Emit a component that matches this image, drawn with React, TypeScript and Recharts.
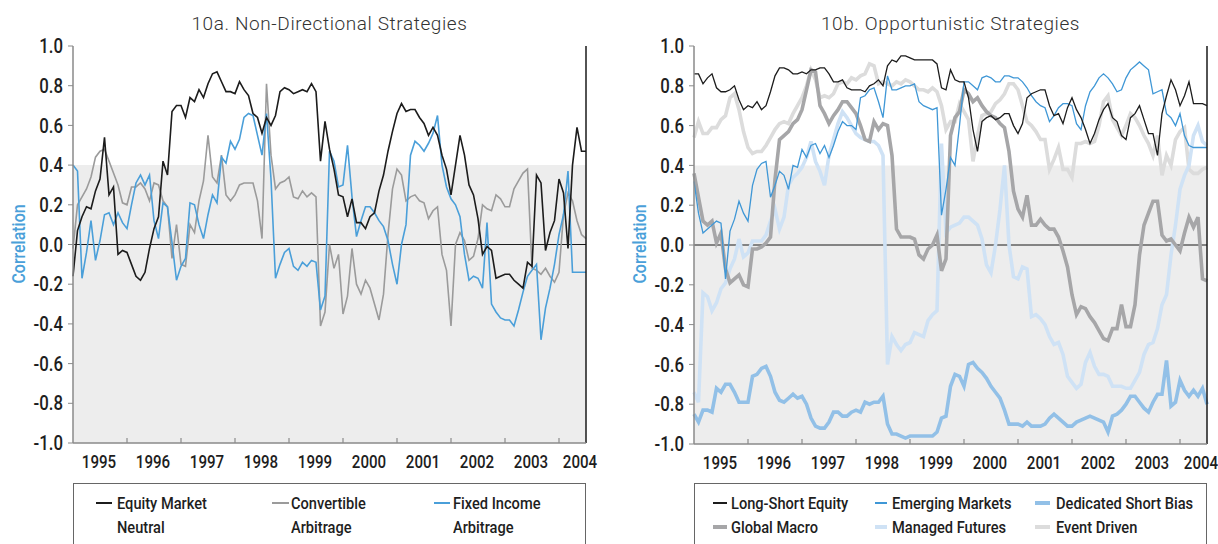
import React from 'react';
import { LineChart, Line, XAxis, YAxis, ReferenceArea, ReferenceLine } from 'recharts';

const FONT = 'Roboto, "Liberation Sans", Arial, sans-serif';
const FONT_WEIGHT = 500;
const NARROW = 0.84;
const LEGEND_NARROW = 0.86;
const TITLE_FONT = 'Roboto, "Noto Sans", sans-serif';

const yearLabels = ['1995', '1996', '1997', '1998', '1999', '2000', '2001', '2002', '2003', '2004'];
const yTicks = [1, 0.8, 0.6, 0.4, 0.2, 0, -0.2, -0.4, -0.6, -0.8, -1];
const bandTop = 0.4;

// Monthly values, Jan 1995 .. Jul 2004 (one row per year)
const equityMarketNeutral = [
  -0.16, 0.07, 0.14, 0.19, 0.18, 0.27, 0.33, 0.54, 0.25, 0.29, -0.05, -0.03,
  -0.04, -0.10, -0.16, -0.18, -0.14, -0.02, 0.08, 0.14, 0.42, 0.35, 0.67, 0.70,
  0.70, 0.64, 0.74, 0.72, 0.78, 0.74, 0.81, 0.86, 0.87, 0.82, 0.77, 0.77,
  0.76, 0.82, 0.78, 0.75, 0.66, 0.64, 0.56, 0.64, 0.60, 0.65, 0.77, 0.79,
  0.78, 0.76, 0.77, 0.78, 0.77, 0.81, 0.77, 0.42, 0.62, 0.48, 0.38, 0.25,
  0.24, 0.14, 0.23, 0.11, 0.11, 0.08, 0.14, 0.16, 0.27, 0.35, 0.47, 0.57,
  0.66, 0.71, 0.67, 0.68, 0.68, 0.64, 0.61, 0.55, 0.59, 0.55, 0.45, 0.38,
  0.25, 0.40, 0.55, 0.45, 0.30, 0.25, 0.13, -0.05, -0.01, -0.03, -0.17, -0.16,
  -0.15, -0.15, -0.18, -0.20, -0.22, -0.09, -0.11, 0.35, 0.31, -0.03, 0.06, 0.12,
  0.33, 0.26, -0.02, 0.40, 0.59, 0.47, 0.47,
];
const convertibleArbitrage = [
  -0.02, 0.20, 0.24, 0.28, 0.34, 0.44, 0.47, 0.48, 0.42, 0.36, 0.30, 0.21,
  0.20, 0.29, 0.29, 0.31, 0.28, 0.22, 0.31, 0.30, 0.22, 0.19, -0.07, 0.10,
  -0.10, -0.11, 0.10, 0.06, 0.22, 0.32, 0.55, 0.34, 0.31, 0.45, 0.25, 0.22,
  0.25, 0.30, 0.31, 0.31, 0.31, 0.22, 0.03, 0.81, 0.45, 0.28, 0.31, 0.32,
  0.34, 0.24, 0.23, 0.27, 0.24, 0.26, 0.24, -0.41, -0.34, 0.00, -0.12, -0.05,
  -0.35, -0.26, -0.02, -0.20, -0.25, -0.18, -0.22, -0.30, -0.38, -0.25, 0.05, 0.28,
  0.38, 0.35, 0.22, 0.24, 0.25, 0.22, 0.21, 0.13, 0.17, 0.19, -0.05, -0.13,
  -0.41, 0.00, 0.06, 0.02, -0.08, -0.06, 0.03, 0.20, 0.18, 0.17, 0.25, 0.23,
  0.19, 0.19, 0.28, 0.32, 0.36, 0.38, -0.12, -0.13, -0.15, -0.12, -0.16, -0.19,
  -0.14, 0.15, 0.26, 0.22, 0.12, 0.05, 0.03,
];
const fixedIncomeArbitrage = [
  0.40, 0.37, -0.17, -0.04, 0.12, -0.08, 0.02, 0.15, 0.16, 0.10, 0.16, 0.11,
  0.08, 0.20, 0.31, 0.35, 0.30, 0.35, 0.12, 0.03, 0.21, 0.19, 0.01, -0.18,
  -0.11, -0.07, 0.21, 0.20, 0.10, 0.03, 0.15, 0.25, 0.21, 0.44, 0.41, 0.52,
  0.48, 0.53, 0.64, 0.66, 0.65, 0.55, 0.45, 0.66, 0.33, -0.17, -0.10, -0.04,
  -0.02, -0.11, -0.13, -0.09, -0.11, -0.08, -0.09, -0.33, -0.26, 0.47, 0.42, 0.29,
  0.30, 0.50, 0.24, 0.04, 0.12, 0.19, 0.19, 0.16, 0.12, 0.09, 0.02, -0.10,
  -0.20, 0.00, 0.10, 0.45, 0.52, 0.50, 0.47, 0.51, 0.56, 0.65, 0.40, 0.29,
  0.23, 0.20, 0.14, -0.05, -0.18, -0.16, -0.17, -0.22, 0.11, -0.30, -0.34, -0.37,
  -0.38, -0.38, -0.41, -0.33, -0.24, -0.16, -0.13, -0.10, -0.48, -0.32, -0.22, -0.10,
  0.05, 0.15, 0.37, -0.14, -0.14, -0.14, -0.14,
];

const longShortEquity = [
  0.86, 0.86, 0.81, 0.84, 0.86, 0.79, 0.77, 0.77, 0.78, 0.80, 0.73, 0.68,
  0.70, 0.69, 0.72, 0.68, 0.70, 0.77, 0.85, 0.89, 0.89, 0.88, 0.86, 0.86,
  0.87, 0.86, 0.88, 0.88, 0.89, 0.89, 0.86, 0.82, 0.82, 0.83, 0.79, 0.78,
  0.78, 0.78, 0.77, 0.80, 0.81, 0.83, 0.80, 0.90, 0.93, 0.92, 0.95, 0.95,
  0.94, 0.93, 0.93, 0.93, 0.93, 0.93, 0.91, 0.79, 0.78, 0.88, 0.83, 0.82,
  0.82, 0.74, 0.58, 0.47, 0.62, 0.64, 0.65, 0.63, 0.64, 0.66, 0.66, 0.60,
  0.56, 0.61, 0.74, 0.76, 0.77, 0.78, 0.78, 0.70, 0.65, 0.66, 0.61, 0.69,
  0.74, 0.68, 0.64, 0.58, 0.51, 0.56, 0.63, 0.68, 0.71, 0.64, 0.62, 0.55,
  0.53, 0.64, 0.66, 0.70, 0.63, 0.56, 0.56, 0.45, 0.66, 0.75, 0.83, 0.78,
  0.70, 0.75, 0.82, 0.71, 0.71, 0.71, 0.70,
];
const emergingMarkets = [
  0.32, 0.16, 0.06, 0.08, 0.10, 0.12, 0.11, -0.17, 0.07, 0.13, 0.22, 0.16,
  0.12, 0.30, 0.38, 0.41, 0.42, 0.24, 0.30, 0.37, 0.35, 0.28, 0.40, 0.39,
  0.48, 0.44, 0.50, 0.51, 0.46, 0.50, 0.44, 0.50, 0.57, 0.62, 0.60, 0.60,
  0.58, 0.74, 0.75, 0.78, 0.79, 0.72, 0.64, 0.85, 0.78, 0.78, 0.79, 0.80,
  0.80, 0.81, 0.72, 0.70, 0.69, 0.68, 0.69, 0.15, 0.28, 0.44, 0.40, 0.60,
  0.82, 0.82, 0.80, 0.78, 0.84, 0.85, 0.84, 0.82, 0.82, 0.85, 0.85, 0.84,
  0.84, 0.82, 0.79, 0.75, 0.72, 0.70, 0.69, 0.62, 0.65, 0.69, 0.71, 0.71,
  0.70, 0.61, 0.58, 0.70, 0.77, 0.80, 0.84, 0.86, 0.84, 0.81, 0.77, 0.78,
  0.84, 0.88, 0.90, 0.92, 0.90, 0.88, 0.76, 0.77, 0.78, 0.66, 0.64, 0.60,
  0.66, 0.55, 0.50, 0.49, 0.49, 0.49, 0.49,
];
const dedicatedShortBias = [
  -0.85, -0.89, -0.83, -0.83, -0.84, -0.72, -0.74, -0.70, -0.70, -0.74, -0.79, -0.79,
  -0.79, -0.66, -0.65, -0.62, -0.61, -0.66, -0.74, -0.78, -0.79, -0.77, -0.75, -0.77,
  -0.76, -0.80, -0.87, -0.91, -0.92, -0.92, -0.89, -0.84, -0.84, -0.86, -0.86, -0.84,
  -0.83, -0.84, -0.79, -0.80, -0.79, -0.79, -0.76, -0.90, -0.95, -0.95, -0.96, -0.97,
  -0.96, -0.96, -0.96, -0.96, -0.96, -0.96, -0.94, -0.87, -0.86, -0.71, -0.65, -0.66,
  -0.71, -0.60, -0.59, -0.62, -0.64, -0.67, -0.71, -0.74, -0.77, -0.83, -0.90, -0.90,
  -0.90, -0.91, -0.89, -0.91, -0.91, -0.91, -0.90, -0.87, -0.85, -0.87, -0.89, -0.91,
  -0.91, -0.89, -0.88, -0.87, -0.86, -0.87, -0.88, -0.89, -0.94, -0.86, -0.85, -0.83,
  -0.80, -0.76, -0.76, -0.79, -0.82, -0.84, -0.79, -0.75, -0.75, -0.58, -0.81, -0.79,
  -0.68, -0.73, -0.76, -0.73, -0.76, -0.72, -0.80,
];
const globalMacro = [
  0.36, 0.24, 0.12, 0.10, 0.12, 0.01, 0.06, -0.12, -0.19, -0.17, -0.15, -0.20,
  -0.21, -0.02, -0.02, -0.01, 0.01, 0.04, 0.33, 0.53, 0.55, 0.57, 0.61, 0.63,
  0.68, 0.78, 0.88, 0.87, 0.70, 0.66, 0.61, 0.65, 0.68, 0.72, 0.72, 0.69,
  0.66, 0.60, 0.53, 0.52, 0.62, 0.58, 0.61, 0.60, 0.45, 0.08, 0.04, 0.04,
  0.04, 0.03, -0.05, -0.07, -0.02, 0.00, 0.05, -0.13, -0.07, 0.55, 0.64, 0.67,
  0.78, 0.76, 0.72, 0.74, 0.70, 0.67, 0.65, 0.64, 0.61, 0.59, 0.47, 0.27,
  0.18, 0.14, 0.25, 0.10, 0.10, 0.13, 0.10, 0.08, 0.08, 0.04, -0.03, -0.11,
  -0.25, -0.35, -0.31, -0.32, -0.36, -0.39, -0.43, -0.47, -0.48, -0.42, -0.42, -0.30,
  -0.41, -0.41, -0.30, -0.05, 0.10, 0.16, 0.22, 0.22, 0.05, 0.02, 0.03, 0.00,
  -0.03, 0.06, 0.14, 0.09, 0.14, -0.17, -0.18,
];
const managedFutures = [
  -0.74, -0.79, -0.24, -0.26, -0.33, -0.29, -0.22, -0.19, -0.12, -0.07, 0.03, -0.06,
  -0.04, 0.02, 0.02, 0.02, 0.05, 0.12, 0.18, 0.08, 0.14, 0.30, 0.34, 0.36,
  0.39, 0.44, 0.52, 0.42, 0.37, 0.30, 0.45, 0.53, 0.61, 0.67, 0.64, 0.60,
  0.56, 0.54, 0.53, 0.52, 0.52, 0.50, 0.45, -0.60, -0.46, -0.50, -0.53, -0.50,
  -0.49, -0.44, -0.45, -0.46, -0.38, -0.35, -0.33, 0.51, 0.06, 0.09, 0.10, 0.11,
  0.14, 0.14, 0.12, 0.10, 0.03, -0.10, -0.14, 0.00, 0.18, 0.40, 0.00, -0.16,
  -0.17, -0.11, -0.12, -0.36, -0.35, -0.37, -0.40, -0.46, -0.50, -0.49, -0.55, -0.66,
  -0.69, -0.72, -0.70, -0.59, -0.54, -0.61, -0.65, -0.65, -0.66, -0.71, -0.71, -0.71,
  -0.72, -0.72, -0.68, -0.64, -0.55, -0.50, -0.49, -0.42, -0.30, -0.25, -0.05, 0.10,
  0.28, 0.35, 0.40, 0.55, 0.60, 0.52, 0.50,
];
const eventDriven = [
  0.54, 0.62, 0.56, 0.56, 0.59, 0.59, 0.63, 0.65, 0.74, 0.76, 0.68, 0.57,
  0.49, 0.46, 0.47, 0.47, 0.50, 0.54, 0.58, 0.61, 0.62, 0.61, 0.66, 0.70,
  0.74, 0.80, 0.88, 0.83, 0.74, 0.75, 0.74, 0.76, 0.81, 0.82, 0.81, 0.84,
  0.83, 0.85, 0.86, 0.91, 0.90, 0.81, 0.82, 0.81, 0.80, 0.82, 0.81, 0.83,
  0.82, 0.80, 0.78, 0.78, 0.77, 0.79, 0.77, 0.70, 0.58, 0.62, 0.62, 0.71,
  0.67, 0.63, 0.42, 0.55, 0.65, 0.66, 0.67, 0.71, 0.73, 0.76, 0.81, 0.81,
  0.78, 0.70, 0.62, 0.60, 0.57, 0.53, 0.53, 0.38, 0.43, 0.49, 0.38, 0.38,
  0.34, 0.51, 0.51, 0.52, 0.51, 0.52, 0.60, 0.72, 0.75, 0.63, 0.59, 0.55,
  0.60, 0.66, 0.64, 0.60, 0.55, 0.51, 0.45, 0.55, 0.35, 0.45, 0.40, 0.53,
  0.57, 0.59, 0.38, 0.36, 0.36, 0.38, 0.39,
];

type Series = { key: string; values: number[]; color: string; width: number };
type LegendItem = { key: string; lines: string[]; x: number; markerW: number; textX: number; row: number };

const leftSeries: Series[] = [
  { key: 'ca', values: convertibleArbitrage, color: '#9b9b9b', width: 1.6 },
  { key: 'fia', values: fixedIncomeArbitrage, color: '#4a9fd9', width: 1.6 },
  { key: 'emn', values: equityMarketNeutral, color: '#1c1c1c', width: 1.6 },
];
const rightSeries: Series[] = [
  { key: 'ed', values: eventDriven, color: '#dcdcdc', width: 3.6 },
  { key: 'mf', values: managedFutures, color: '#cfe2f5', width: 3.6 },
  { key: 'dsb', values: dedicatedShortBias, color: '#92c0e7', width: 3.6 },
  { key: 'gm', values: globalMacro, color: '#a6a6a8', width: 3.6 },
  { key: 'em', values: emergingMarkets, color: '#3f97d6', width: 1.3 },
  { key: 'lse', values: longShortEquity, color: '#1c1c1c', width: 1.3 },
];

const leftLegend: LegendItem[] = [
  { key: 'emn', lines: ['Equity Market', 'Neutral'], x: 96, markerW: 16, textX: 117, row: 0 },
  { key: 'ca', lines: ['Convertible', 'Arbitrage'], x: 272, markerW: 17, textX: 291, row: 0 },
  { key: 'fia', lines: ['Fixed Income', 'Arbitrage'], x: 434, markerW: 16, textX: 453, row: 0 },
];
const rightLegend: LegendItem[] = [
  { key: 'lse', lines: ['Long-Short Equity'], x: 104, markerW: 14, textX: 122, row: 0 },
  { key: 'em', lines: ['Emerging Markets'], x: 266, markerW: 12, textX: 283, row: 0 },
  { key: 'dsb', lines: ['Dedicated Short Bias'], x: 426, markerW: 15, textX: 447, row: 0 },
  { key: 'gm', lines: ['Global Macro'], x: 104, markerW: 14, textX: 122, row: 1 },
  { key: 'mf', lines: ['Managed Futures'], x: 266, markerW: 12, textX: 283, row: 1 },
  { key: 'ed', lines: ['Event Driven'], x: 426, markerW: 15, textX: 447, row: 1 },
];

function buildRows(series: Series[]) {
  const n = Math.max(...series.map((s) => s.values.length));
  const rows: Record<string, number>[] = [];
  for (let i = 0; i < n; i++) {
    const row: Record<string, number> = { m: i };
    series.forEach((s) => {
      row[s.key] = s.values[i];
    });
    rows.push(row);
  }
  return rows;
}

const H = 544;
const PLOT_TOP = 46;
const YAXIS_W = 50;
const XAXIS_H = 40;
const AXIS_GREY = '#8a8a8a';
const TEXT = '#1e1e1e';

function XTick(props: any) {
  const { x, y, payload } = props;
  const idx = Math.round((payload.value - 6) / 12);
  const label = yearLabels[idx];
  const shift = idx === yearLabels.length - 1 ? -6 : -1;
  return (
    <text
      transform={`translate(${x + shift},${y}) scale(${NARROW},1)`}
      textAnchor="middle"
      dy="0.71em"
      fill={TEXT}
      fontSize={18}
      fontWeight={FONT_WEIGHT}
      fontFamily={FONT}
    >
      {label}
    </text>
  );
}

function YTick(props: any) {
  const { x, y, payload } = props;
  return (
    <text
      transform={`translate(${x},${y}) scale(${NARROW},1)`}
      textAnchor="end"
      dy="0.355em"
      fill={TEXT}
      fontSize={20}
      fontWeight={FONT_WEIGHT}
      fontFamily={FONT}
    >
      {Number(payload.value).toFixed(1)}
    </text>
  );
}

function Panel(props: {
  left: number;
  width: number;
  plotLeft: number;
  plotRight: number;
  bottom: number;
  title: string;
  series: Series[];
  legend: LegendItem[];
}) {
  const { left, width, plotLeft, plotRight, bottom, title, series, legend } = props;
  const rows = buildRows(series);
  const maxM = rows.length - 1;
  const labelTicks = yearLabels.map((_, i) => 6 + 12 * i);
  const boundaries = yearLabels.slice(1).map((_, i) => 12 * (i + 1));
  const plotW = plotRight - plotLeft;
  const byKey: Record<string, Series> = {};
  series.forEach((s) => (byKey[s.key] = s));
  const rowY = [503, 527];

  return (
    <div style={{ position: 'absolute', left, top: 0, width, height: H }}>
      <LineChart
        width={width}
        height={H}
        data={rows}
        margin={{ top: PLOT_TOP, right: width - plotRight, bottom, left: plotLeft - YAXIS_W }}
      >
        <ReferenceArea x1={0} x2={maxM} y1={-1} y2={bandTop} fill="#ededed" fillOpacity={1} stroke="none" />
        <XAxis
          type="number"
          dataKey="m"
          domain={[0, maxM]}
          ticks={labelTicks}
          interval={0}
          tickLine={false}
          tickSize={0}
          tickMargin={12}
          height={XAXIS_H}
          axisLine={{ stroke: AXIS_GREY, strokeWidth: 1.5 }}
          tick={<XTick />}
        />
        <YAxis
          type="number"
          domain={[-1, 1]}
          ticks={yTicks}
          interval={0}
          width={YAXIS_W}
          tickSize={5}
          tickMargin={5}
          tickLine={{ stroke: AXIS_GREY }}
          axisLine={{ stroke: AXIS_GREY, strokeWidth: 1.5 }}
          tick={<YTick />}
        />
        {boundaries.map((b) => (
          <ReferenceLine
            key={b}
            segment={[
              { x: b, y: -1 },
              { x: b, y: -0.975 },
            ]}
            stroke={AXIS_GREY}
            strokeWidth={1.2}
          />
        ))}
        <ReferenceLine y={0} stroke="#1a1a1a" strokeWidth={1} />
        {series.map((s) => (
          <Line
            key={s.key}
            dataKey={s.key}
            type="linear"
            stroke={s.color}
            strokeWidth={s.width}
            dot={false}
            activeDot={false}
            isAnimationActive={false}
          />
        ))}
        <ReferenceLine x={maxM} stroke="#1a1a1a" strokeWidth={1.5} />
      </LineChart>

      <div
        style={{
          position: 'absolute',
          left: plotLeft,
          width: plotW,
          top: 12,
          textAlign: 'center',
          fontFamily: TITLE_FONT,
          fontWeight: 300,
          fontSize: 19,
          letterSpacing: 0.6,
          color: '#333',
          whiteSpace: 'nowrap',
        }}
      >
        {title}
      </div>

      <div
        style={{
          position: 'absolute',
          left: plotLeft - 55,
          top: 244,
          transform: `translate(-50%, -50%) rotate(-90deg) scaleX(${NARROW})`,
          color: '#4a9fd9',
          fontFamily: FONT,
          fontWeight: FONT_WEIGHT,
          fontSize: 19,
          whiteSpace: 'nowrap',
        }}
      >
        Correlation
      </div>

      <div
        style={{
          position: 'absolute',
          left: plotLeft,
          top: 483,
          width: plotW,
          height: 90,
          border: '1.5px solid #666',
          boxSizing: 'border-box',
        }}
      />
      {legend.map((item) => {
        const s = byKey[item.key];
        const y0 = rowY[item.row];
        return (
          <React.Fragment key={item.key}>
            <div
              style={{
                position: 'absolute',
                left: item.x,
                top: y0 - s.width / 2,
                width: item.markerW,
                height: s.width,
                background: s.color,
              }}
            />
            {item.lines.map((line, li) => (
              <div
                key={li}
                style={{
                  position: 'absolute',
                  left: item.textX,
                  top: rowY[item.row + li] - 12,
                  height: 24,
                  lineHeight: '24px',
                  fontFamily: FONT,
                  fontWeight: FONT_WEIGHT,
                  fontSize: 17,
                  color: TEXT,
                  whiteSpace: 'nowrap',
                  transform: `scaleX(${LEGEND_NARROW})`,
                  transformOrigin: '0 50%',
                }}
              >
                {line}
              </div>
            ))}
          </React.Fragment>
        );
      })}
    </div>
  );
}

export default function App() {
  return (
    <div
      style={{
        position: 'absolute',
        left: 0,
        top: 0,
        width: 1218,
        height: H,
        overflow: 'hidden',
        background: '#fff',
      }}
    >
      <Panel
        left={0}
        width={609}
        plotLeft={73}
        plotRight={586}
        bottom={H - PLOT_TOP - 397 - XAXIS_H}
        title="10a. Non-Directional Strategies"
        series={leftSeries}
        legend={leftLegend}
      />
      <Panel
        left={609}
        width={609}
        plotLeft={85}
        plotRight={598}
        bottom={H - PLOT_TOP - 398 - XAXIS_H}
        title="10b. Opportunistic Strategies"
        series={rightSeries}
        legend={rightLegend}
      />
    </div>
  );
}
